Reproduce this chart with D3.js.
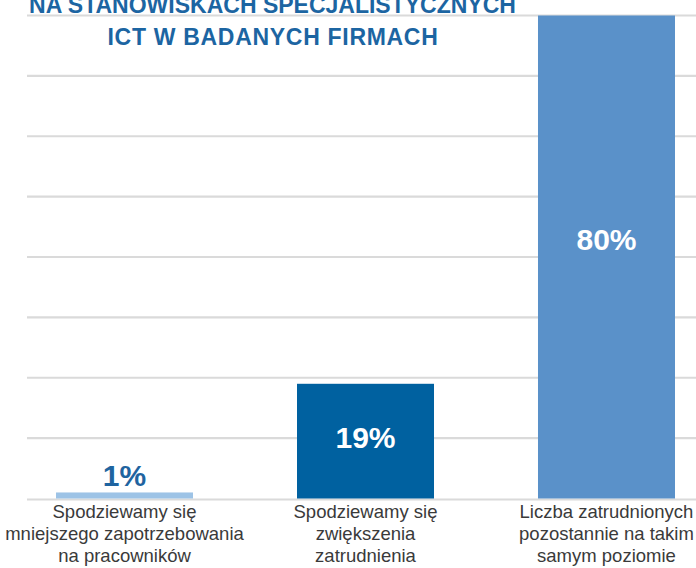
<!DOCTYPE html>
<html>
<head>
<meta charset="utf-8">
<script src="https://cdn.jsdelivr.net/npm/d3@7/dist/d3.min.js"></script>
<style>
  html, body { margin: 0; padding: 0; background: #ffffff; }
  svg { display: block; font-family: "Liberation Sans", Arial, sans-serif; }
</style>
</head>
<body>
<svg id="chart" width="696" height="568"></svg>
<script>
const titleLines = ["NA STANOWISKACH SPECJALISTYCZNYCH", "ICT W BADANYCH FIRMACH"];
const categories = [
  ["Spodziewamy się", "mniejszego zapotrzebowania", "na pracowników"],
  ["Spodziewamy się", "zwiększenia", "zatrudnienia"],
  ["Liczba zatrudnionych", "pozostannie na takim", "samym poziomie"]
];
const values = [1, 19, 80];
const valueLabels = ["1%", "19%", "80%"];
const gridTicks = [0, 10, 20, 30, 40, 50, 60, 70, 80];
const barColors = ["#9dc3e6", "#0061a0", "#5a91c9"];

const svg = d3.select("#chart");

const x = d3.scaleBand()
  .domain(d3.range(values.length))
  .range([4, 727])
  .paddingInner(0.4315)
  .paddingOuter(0.2158);

const y = d3.scaleLinear().domain([0, 80]).range([498.5, 15.5]);

// gridlines
svg.append("g").selectAll("line")
  .data(gridTicks)
  .join("line")
  .attr("x1", 27).attr("x2", 727)
  .attr("y1", d => y(d) + (d === 0 ? 1 : 0))
  .attr("y2", d => y(d) + (d === 0 ? 1 : 0))
  .attr("stroke", "#dadada")
  .attr("stroke-width", 2.2);

// bars
svg.append("g").selectAll("rect")
  .data(values)
  .join("rect")
  .attr("x", (d, i) => x(i))
  .attr("width", x.bandwidth())
  .attr("y", d => y(d))
  .attr("height", d => y(0) - y(d))
  .attr("fill", (d, i) => barColors[i]);

// value labels
const labelShift = [0, 7, -7];
svg.append("g").selectAll("text")
  .data(values)
  .join("text")
  .attr("x", (d, i) => x(i) + x.bandwidth() / 2)
  .attr("y", (d, i) => d < 5 ? y(d) - 6 : y(d / 2) + labelShift[i])
  .attr("text-anchor", "middle")
  .attr("font-size", "30px")
  .attr("font-weight", "bold")
  .attr("fill", d => d < 5 ? "#1f64a0" : "#ffffff")
  .text((d, i) => valueLabels[i]);

// category labels
const catG = svg.append("g");
categories.forEach((lines, i) => {
  const t = catG.append("text")
    .attr("text-anchor", "middle")
    .attr("font-size", "18.5px")
    .attr("fill", "#3a3a3a");
  lines.forEach((ln, j) => {
    t.append("tspan")
      .attr("x", x(i) + x.bandwidth() / 2)
      .attr("y", 518.3 + j * 21.6)
      .text(ln);
  });
});

// title
svg.append("text")
  .attr("x", 272.5).attr("y", 13)
  .attr("text-anchor", "middle")
  .attr("font-size", "23px")
  .attr("font-weight", "bold")
  .attr("fill", "#1c65a2")
  .text(titleLines[0]);
svg.append("text")
  .attr("x", 273).attr("y", 45)
  .attr("text-anchor", "middle")
  .attr("font-size", "23px")
  .attr("font-weight", "bold")
  .attr("letter-spacing", "0.7px")
  .attr("fill", "#1c65a2")
  .text(titleLines[1]);
</script>
</body>
</html>
